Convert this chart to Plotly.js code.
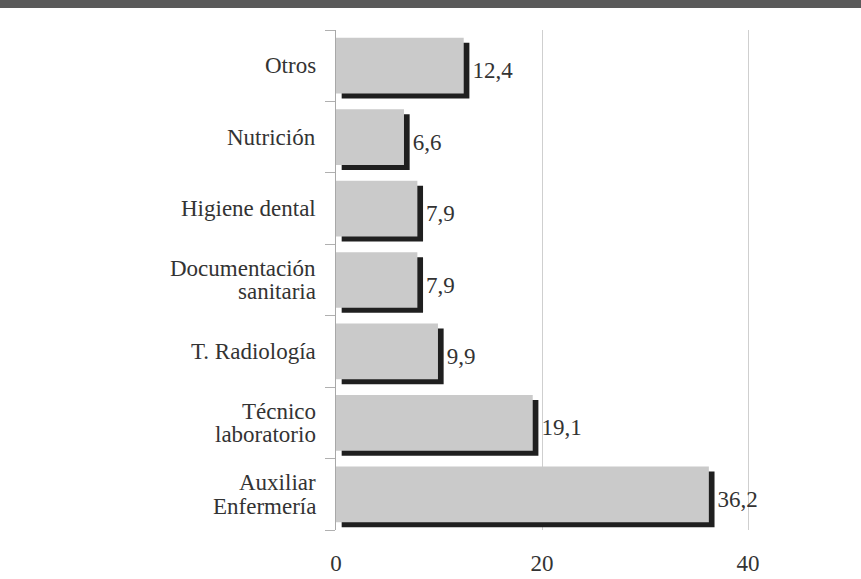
<!DOCTYPE html>
<html>
<head>
<script src="https://cdn.plot.ly/plotly-3.0.1.min.js"></script>
</head>
<body style="margin:0">
<div id="chart"></div>
<script>
// Data (bottom to top as drawn)
const categories = ['Auxiliar<br>Enfermería', 'Técnico<br>laboratorio', 'T. Radiología', 'Documentación<br>sanitaria', 'Higiene dental', 'Nutrición', 'Otros'];
const values = [36.2, 19.1, 9.9, 7.9, 7.9, 6.6, 12.4];
const xTicks = [0, 20, 40];

const FAMILY = 'Liberation Serif';
const FS = 23;

const shadow = {
  type: 'bar', orientation: 'h',
  y: categories, x: values, base: 0.55,
  width: 0.78, offset: -0.46,
  marker: {color: '#1f1f1f', line: {width: 0}},
  texttemplate: '%{x:.1f}', textposition: 'outside', cliponaxis: false,
  constraintext: 'none',
  textfont: {family: FAMILY, size: FS, color: '#333'},
  hoverinfo: 'skip', showlegend: false
};
const bars = {
  type: 'bar', orientation: 'h',
  y: categories, x: values,
  width: 0.78, offset: -0.39,
  marker: {color: '#cacaca', line: {width: 0}},
  textposition: 'none',
  showlegend: false
};

// category labels, one text per line, with tight leading as in the reference
const annotations = [];
categories.forEach(cat => {
  const lines = cat.split('<br>');
  lines.forEach((ln, j) => {
    annotations.push({
      xref: 'paper', yref: 'y', x: 0, y: cat,
      xanchor: 'right', yanchor: 'middle', xshift: -18,
      yshift: ((lines.length - 1) / 2 - j) * 23.5,
      text: ln, showarrow: false,
      font: {family: FAMILY, size: FS, color: '#333'}
    });
  });
});

const layout = {
  width: 861, height: 579,
  margin: {l: 336, r: 10, t: 30, b: 49},
  paper_bgcolor: '#fff', plot_bgcolor: '#fff',
  barmode: 'overlay',
  separators: ',.',
  xaxis: {
    range: [0, 50], tickvals: xTicks, ticktext: xTicks.map(String),
    showgrid: true, gridcolor: '#cfcfcf', gridwidth: 1, zeroline: false,
    showline: false, ticks: 'outside', ticklen: 12, tickcolor: 'rgba(0,0,0,0)',
    tickfont: {family: FAMILY, size: FS, color: '#333'}
  },
  yaxis: {
    type: 'category', categoryorder: 'array', categoryarray: categories,
    showline: true, linecolor: '#a8a8a8', linewidth: 1,
    ticks: 'outside', tickson: 'boundaries', ticklen: 10, tickcolor: '#b0b0b0',
    showticklabels: false,
    showgrid: false, zeroline: false
  },
  annotations: annotations,
  shapes: [{
    type: 'rect', xref: 'paper', yref: 'paper',
    x0: -1, x1: 2, y0: 1 + 22/500, y1: 1.2,
    fillcolor: '#5a5a5a', line: {width: 0}, layer: 'above'
  }]
};

Plotly.newPlot('chart', [shadow, bars], layout, {displayModeBar: false});
</script>
</body>
</html>
